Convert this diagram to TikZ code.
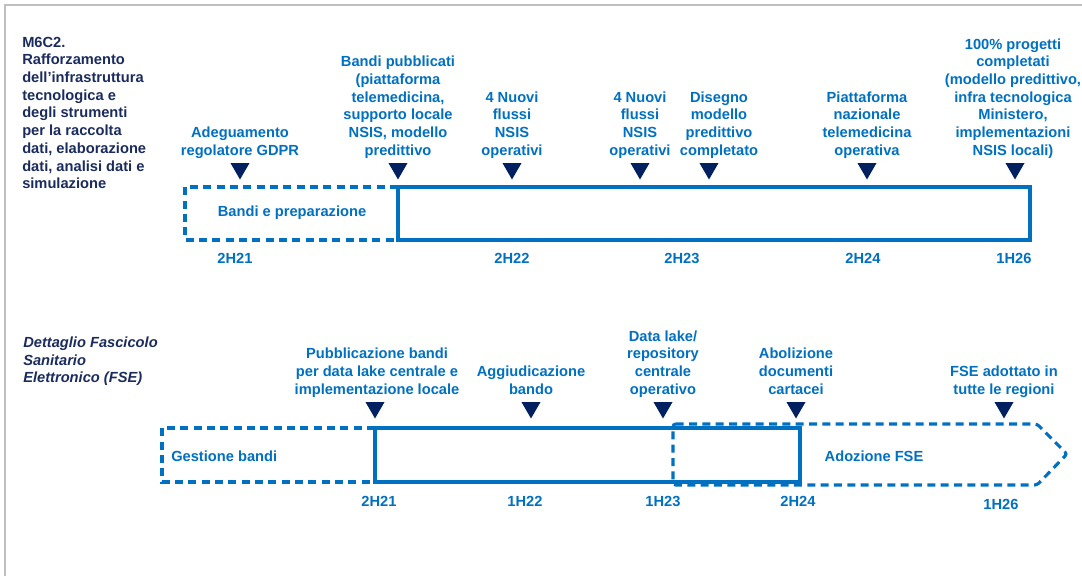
\documentclass[tikz,border=0pt]{standalone}
\usepackage{fontspec}
\setmainfont{Liberation Sans}
\usetikzlibrary{shapes.geometric,positioning}
\definecolor{pnrrblue}{HTML}{0070C0}
\definecolor{pnrrnavy}{HTML}{002060}
\definecolor{titlenavy}{HTML}{1A2B5E}
\definecolor{framegray}{HTML}{BFBFBF}

\begin{document}
\begin{tikzpicture}[
  x=0.75pt,y=-0.75pt,
  lbl/.style={align=center,font=\fontsize{11}{13.3}\selectfont\bfseries,text=pnrrblue,inner sep=1pt,
    execute at begin node=\strut,execute at end node=\strut},
  datelbl/.style={font=\fontsize{11}{13.3}\selectfont\bfseries,text=pnrrblue,inner sep=0pt},
  ttl/.style={align=left,font=\fontsize{11}{13.3}\selectfont\bfseries,text=titlenavy,inner sep=0pt,anchor=north west},
  tri/.style={regular polygon,regular polygon sides=3,shape border rotate=180,fill=pnrrnavy,inner sep=0pt,minimum size=16.5pt},
  box/.style={draw=pnrrblue,line width=2.3pt},
  dbox/.style={box,dash pattern=on 6pt off 4pt}
]
\useasboundingbox (0,0) rectangle (1082,576);
\draw[framegray,line width=1.5pt] (5,576) -- (5,5) -- (1082,5);

% M6C2 timeline
\node[ttl] (ttlA) at (22,36.5) {M6C2.\\Rafforzamento\\dell’infrastruttura\\tecnologica e\\degli strumenti\\per la raccolta\\dati, elaborazione\\dati, analisi dati e\\simulazione};

\draw[dbox] (398,187) -- (185,187) -- (185,240) -- (398,240);
\draw[box] (398,187) rectangle (1030,240);
\node[datelbl] (prep) at (292,213) {Bandi e preparazione};

\node[tri] (tGdpr) at (240,168.5) {};
\node[lbl,above=0.3pt of tGdpr] (gdpr) {Adeguamento\\regolatore GDPR};
\node[tri] (tBandi) at (398,168.5) {};
\node[lbl,above=0.3pt of tBandi] (bandi) {Bandi pubblicati\\(piattaforma\\telemedicina,\\supporto locale\\NSIS, modello\\predittivo};
\node[tri] (tFlussiA) at (512,168.5) {};
\node[lbl,above=0.3pt of tFlussiA] (flussiA) {4 Nuovi\\flussi\\NSIS\\operativi};
\node[tri] (tFlussiB) at (640,168.5) {};
\node[lbl,above=0.3pt of tFlussiB] (flussiB) {4 Nuovi\\flussi\\NSIS\\operativi};
\node[tri] (tDisegno) at (709,168.5) {};
\node[lbl,above=0.3pt of tDisegno,xshift=7.5pt] (disegno) {Disegno\\modello\\predittivo\\completato};
\node[tri] (tPiatt) at (867,168.5) {};
\node[lbl,above=0.3pt of tPiatt] (piatt) {Piattaforma\\nazionale\\telemedicina\\operativa};
\node[tri] (tCompl) at (1015,168.5) {};
\node[lbl,above=0.3pt of tCompl,xshift=-1.5pt] (compl) {100\% progetti\\completati\\(modello predittivo,\\infra tecnologica\\Ministero,\\implementazioni\\NSIS locali)};

\node[datelbl] (a21) at (235,258) {2H21};
\node[datelbl] (a22) at (512,258) {2H22};
\node[datelbl] (a23) at (682,258) {2H23};
\node[datelbl] (a24) at (863,258) {2H24};
\node[datelbl] (a26) at (1014,258) {1H26};

% FSE timeline
\node[ttl,font=\fontsize{11}{13.3}\selectfont\bfseries\itshape] (ttlB) at (23,336.5) {Dettaglio Fascicolo\\Sanitario\\Elettronico (FSE)};

\draw[dbox,rounded corners=2pt] (673,424) -- (1037,424) -- (1067,454) -- (1037,485) -- (673,485) -- cycle;
\draw[dbox] (375,428) -- (162,428) -- (162,482) -- (375,482);
\draw[box] (375,428) rectangle (800,482);
\node[datelbl,anchor=west] (gest) at (171,456) {Gestione bandi};
\node[datelbl] (adoz) at (874,456) {Adozione FSE};

\node[tri] (tPubbl) at (375,407.5) {};
\node[lbl,above=0.3pt of tPubbl,xshift=1.5pt] (pubbl) {Pubblicazione bandi\\per data lake centrale e\\implementazione locale};
\node[tri] (tAggiud) at (531,407.5) {};
\node[lbl,above=0.3pt of tAggiud] (aggiud) {Aggiudicazione\\bando};
\node[tri] (tLake) at (663,407.5) {};
\node[lbl,above=0.3pt of tLake] (lake) {Data lake/\\repository\\centrale\\operativo};
\node[tri] (tAbol) at (796,407.5) {};
\node[lbl,above=0.3pt of tAbol] (abol) {Abolizione\\documenti\\cartacei};
\node[tri] (tAdott) at (1004,407.5) {};
\node[lbl,above=0.3pt of tAdott] (adott) {FSE adottato in\\tutte le regioni};

\node[datelbl] (b21) at (379,501) {2H21};
\node[datelbl] (b22) at (525,501) {1H22};
\node[datelbl] (b23) at (663,501) {1H23};
\node[datelbl] (b24) at (798,501) {2H24};
\node[datelbl] (b26) at (1001,504) {1H26};
\end{tikzpicture}
\end{document}
